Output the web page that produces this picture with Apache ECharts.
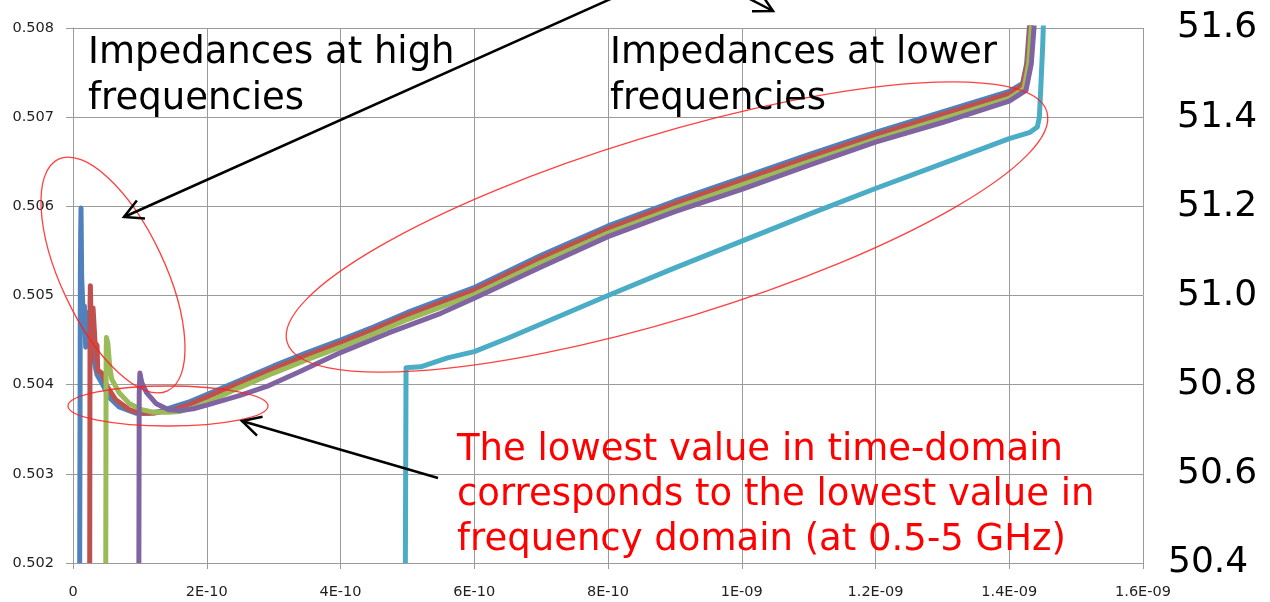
<!DOCTYPE html>
<html><head><meta charset="utf-8">
<script src="https://cdn.jsdelivr.net/npm/echarts@6/dist/echarts.min.js"></script>
<style>html,body{margin:0;padding:0;background:#fff}#c{width:1270px;height:602px}</style>
</head><body><div id="c"></div>
<script>
// x values are in units of 1E-10 s
const xTickLabels = ['0','2E-10','4E-10','6E-10','8E-10','1E-09','1.2E-09','1.4E-09','1.6E-09'];
const yTickLabels = ['0.502','0.503','0.504','0.505','0.506','0.507','0.508'];
const rightTickLabels = ['50.4','50.6','50.8','51.0','51.2','51.4','51.6'];
const seriesColors = ['#4F81BD','#C0504D','#9BBB59','#8064A2','#4BACC6'];

const blueData = [[0.10,0.502],[0.11,0.5052],[0.115,0.5057],[0.12,0.50598],[0.13,0.5052],[0.15,0.50484],[0.17,0.50488],[0.19,0.50442],[0.21,0.50481],[0.24,0.5046],[0.27,0.50458],[0.31,0.50428],[0.36,0.50411],[0.43,0.50402],[0.54,0.50386],[0.69,0.50375],[0.94,0.50368],[1.10,0.50368],[1.3,0.5037],[1.5,0.50375],[1.75,0.50381],[2.0,0.50389],[2.5,0.50405],[3.0,0.50421],[3.5,0.50436],[4.0,0.5045],[4.5,0.50465],[5.0,0.50481],[5.5,0.50495],[6.0,0.50509],[7.0,0.50545],[8.0,0.50578],[9.0,0.50606],[10.0,0.50632],[11.0,0.50658],[12.0,0.50683],[13.0,0.50706],[14.0,0.50729],[14.2,0.50738],[14.26,0.5076],[14.3,0.508],[14.34,0.5085]];
const redData = [[0.25,0.502],[0.255,0.5049],[0.26,0.50511],[0.28,0.50428],[0.30,0.50486],[0.33,0.50447],[0.36,0.50444],[0.37,0.50416],[0.43,0.50413],[0.51,0.50398],[0.64,0.50383],[0.84,0.50372],[0.99,0.50368],[1.2,0.50368],[1.5,0.50372],[1.75,0.50378],[2.0,0.50386],[2.5,0.50402],[3.0,0.50418],[3.5,0.50433],[4.0,0.50447],[4.5,0.50462],[5.0,0.50478],[5.5,0.50492],[6.0,0.50506],[7.0,0.50542],[8.0,0.50575],[9.0,0.50603],[10,0.50629],[11,0.50655],[12,0.5068],[13,0.50703],[14,0.50726],[14.2,0.50736],[14.27,0.5076],[14.31,0.508],[14.35,0.5085]];
const greenData = [[0.49,0.502],[0.495,0.5043],[0.50,0.50453],[0.52,0.50447],[0.55,0.5042],[0.58,0.50406],[0.69,0.50391],[0.84,0.50379],[1.03,0.50372],[1.2,0.50369],[1.43,0.50369],[1.6,0.5037],[1.8,0.50374],[2.0,0.5038],[2.5,0.50397],[3.0,0.50413],[3.5,0.50428],[4.0,0.50442],[4.5,0.50457],[5.0,0.50473],[5.5,0.50487],[6.0,0.50501],[7.0,0.50537],[8.0,0.5057],[9.0,0.50598],[10,0.50624],[11,0.5065],[12,0.50675],[13,0.50698],[14,0.50721],[14.22,0.50732],[14.29,0.5076],[14.33,0.508],[14.37,0.5085]];
const purpleData = [[0.985,0.502],[0.99,0.5039],[1.0,0.50413],[1.03,0.50402],[1.10,0.50391],[1.24,0.50379],[1.43,0.50372],[1.6,0.50371],[1.8,0.50373],[2.0,0.50377],[2.5,0.50388],[2.93,0.50399],[3.37,0.50414],[4.0,0.50436],[4.72,0.50458],[5.0,0.50466],[5.5,0.5048],[6.0,0.50497],[7.0,0.50532],[8.0,0.50566],[9.0,0.50594],[10,0.50619],[11,0.50646],[12,0.50672],[13,0.50694],[14,0.50718],[14.25,0.5073],[14.33,0.5076],[14.37,0.508],[14.4,0.5085]];
const cyanData = [[4.97,0.502],[4.98,0.50419],[5.2,0.5042],[5.6,0.5043],[6.0,0.50437],[6.5,0.50452],[7.0,0.50468],[7.5,0.50484],[8.0,0.505],[9.0,0.50531],[10,0.50561],[11,0.50591],[12,0.5062],[13,0.50648],[14,0.50676],[14.31,0.50683],[14.42,0.50689],[14.45,0.507],[14.47,0.5073],[14.5,0.5078],[14.53,0.5085]];

const allData = [blueData, redData, greenData, purpleData, cyanData];

function arrow(tail, tip) {
  const dx = tail[0]-tip[0], dy = tail[1]-tip[1];
  const a = Math.atan2(dy, dx), L = 21, h = 0.49;
  const w1 = [tip[0]+L*Math.cos(a+h), tip[1]+L*Math.sin(a+h)];
  const w2 = [tip[0]+L*Math.cos(a-h), tip[1]+L*Math.sin(a-h)];
  return [
    {type:'line', shape:{x1:tail[0],y1:tail[1],x2:tip[0],y2:tip[1]}, style:{stroke:'#000', lineWidth:2.5}, z:100},
    {type:'polyline', shape:{points:[w1,tip,w2]}, style:{stroke:'#000', lineWidth:2.5, fill:'none'}, z:100}
  ];
}
const ellStyle = {fill:'none', stroke:'rgba(255,30,30,0.85)', lineWidth:1.3};
const font37 = '37px "DejaVu Sans"';
const rightLabel = {fontSize:36, fontFamily:'DejaVu Sans', color:'#000'};

const chart = echarts.init(document.getElementById('c'));
chart.setOption({
  animation: false,
  backgroundColor: '#fff',
  grid: {left:73, right:127, top:28, bottom:39},
  xAxis: {
    type:'value', min:0, max:16, interval:2,
    axisLine:{show:true, lineStyle:{color:'#9b9b9b', width:1}},
    axisTick:{show:true, length:6, lineStyle:{color:'#9b9b9b'}},
    splitLine:{show:true, lineStyle:{color:'#9b9b9b', width:1}},
    axisLabel:{margin:22, fontSize:14.5, fontFamily:'DejaVu Sans', color:'#1f1f1f',
      formatter: v => xTickLabels[Math.round(v/2)]}
  },
  yAxis: [{
    type:'value', min:0.502, max:0.508, interval:0.001,
    axisLine:{show:true, lineStyle:{color:'#9b9b9b', width:1}},
    axisTick:{show:true, length:7, lineStyle:{color:'#9b9b9b'}},
    splitLine:{show:true, lineStyle:{color:'#9b9b9b', width:1}},
    axisLabel:{margin:19, fontSize:14.5, fontFamily:'DejaVu Sans', color:'#1f1f1f',
      formatter: v => yTickLabels[Math.round((v-0.502)/0.001)]}
  },{
    type:'value', position:'right', min:0, max:6, interval:1,
    axisLine:{show:false}, axisTick:{show:false}, splitLine:{show:false},
    axisLabel:Object.assign({margin:34, formatter: v => Math.round(v) === 0 ? '' : rightTickLabels[Math.round(v)]}, rightLabel)
  },{
    type:'value', position:'right', min:0, max:6, interval:1,
    axisLine:{show:false}, axisTick:{show:false}, splitLine:{show:false},
    axisLabel:Object.assign({margin:25, formatter: v => Math.round(v) === 0 ? rightTickLabels[0] : ''}, rightLabel)
  }],
  series: allData.map((d,i) => ({
    type:'line', data:d, showSymbol:false, symbol:'none', silent:true,
    lineStyle:{color:seriesColors[i], width:5, join:'round'},
    itemStyle:{color:seriesColors[i]}, z:2+i
  })),
  graphic: [
    {type:'ellipse', x:113, y:275, rotation:0.44, shape:{cx:0,cy:0,rx:52,ry:128}, style:ellStyle, z:100},
    {type:'ellipse', x:168, y:406, shape:{cx:0,cy:0,rx:100,ry:20}, style:ellStyle, z:100},
    {type:'ellipse', x:667, y:227, rotation:0.295, shape:{cx:0,cy:0,rx:397,ry:92}, style:ellStyle, z:100},
    ...arrow([615,-3],[124,217]),
    ...arrow([746,-3],[773,11]),
    ...arrow([438,478],[242,421]),
    {type:'text', x:88, y:30, z:101, style:{text:'Impedances at high\nfrequencies', font:font37, fill:'#000', lineHeight:46, verticalAlign:'top', textVerticalAlign:'top'}},
    {type:'text', x:610, y:30, z:101, style:{text:'Impedances at lower\nfrequencies', font:font37, fill:'#000', lineHeight:46, verticalAlign:'top', textVerticalAlign:'top'}},
    {type:'text', x:457, y:428, z:101, style:{text:'The lowest value in time-domain\ncorresponds to the lowest value in\nfrequency domain (at 0.5-5 GHz)', font:font37, fill:'#ff0000', lineHeight:45, verticalAlign:'top', textVerticalAlign:'top'}}
  ]
});
</script></body></html>
